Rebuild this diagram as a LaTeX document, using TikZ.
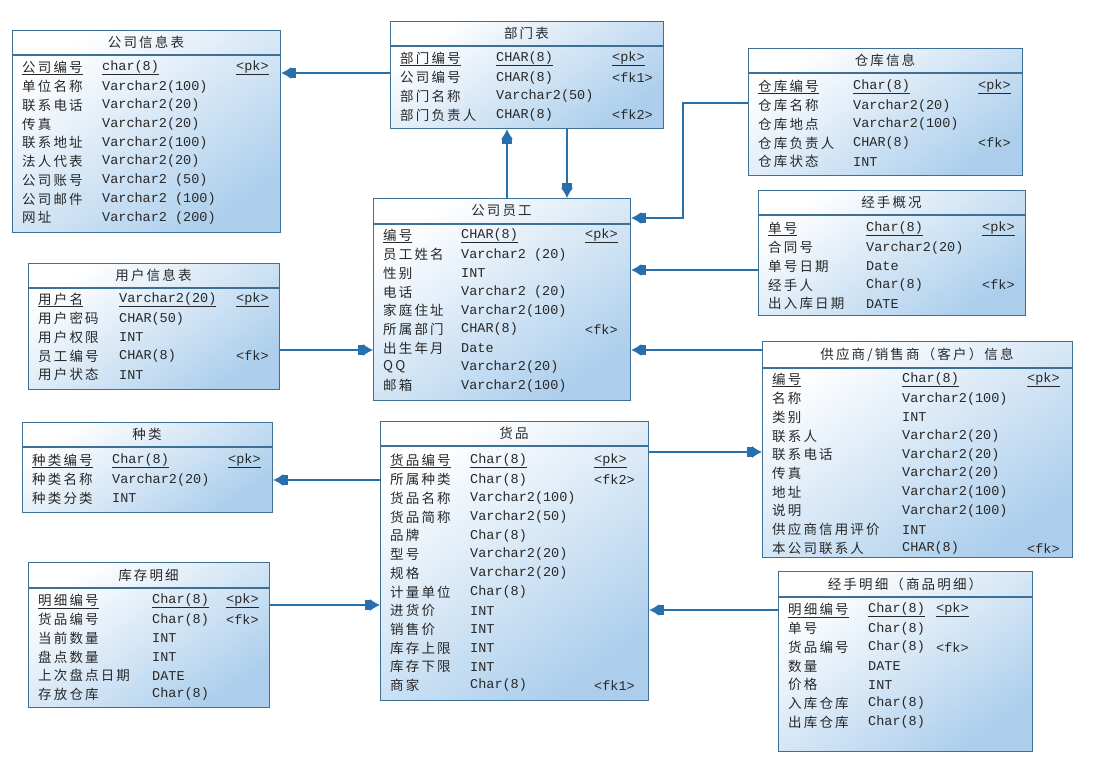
\documentclass[tikz,border=0pt]{standalone}
\usepackage{fontspec}
\setmainfont[LetterSpace=16]{Noto Sans CJK SC}
\newfontfamily\typefont{Liberation Mono}
\usetikzlibrary{arrows.meta}

\definecolor{tblborder}{RGB}{62,112,150}
\definecolor{tblfill}{RGB}{172,206,236}
\definecolor{relblue}{RGB}{40,112,172}
\definecolor{txtgray}{RGB}{40,40,40}

\tikzset{
  tbl/.style={draw=tblborder, line width=1.2pt, top color=white, bottom color=tblfill, shading angle=35, inner sep=0pt},
  fld/.style={anchor=west, inner sep=0pt, text=txtgray, font=\fontsize{13.5}{15}\selectfont},
  typ/.style={anchor=west, inner sep=0pt, text=txtgray, font=\typefont\fontsize{13.5}{15}\selectfont},
  rel/.style={draw=relblue, line width=1.2pt, -{Rectangle[length=5pt,width=10pt] Latex[length=10pt,width=12pt]}}
}

% box with a title bar
\newcommand\ertable[7]{%
  \node[tbl, anchor=north west, minimum width=#4-#2, minimum height=#5-#3] (#1) at (#2,#3) {};
  \draw[tblborder, line width=1.2pt] (#2,#6) -- (#4,#6);
  \node[fld] (#1-title) at ({(#2+#4)/2}, {(#3+#6)/2}) [anchor=center] {#7};
}
% rows: name, left, type offset, key offset, first row y, list
\newcommand\errows[6]{%
  \foreach \n/\t/\k [count=\i] in {#6} {
    \pgfmathsetmacro\yy{#5+(\i-1)*18.7}
    \node[fld] (#1-n\i) at (#2+10,\yy) {\n};
    \node[typ] (#1-t\i) at (#2+#3,\yy) {\t};
    \node[typ] (#1-k\i) at (#2+#4,\yy) {\k};
  }
}

\begin{document}
\begin{tikzpicture}[x=1pt, y=-1pt]
\useasboundingbox[fill=white] (0,0) rectangle (1110,762);

%Company tables
\ertable{comp}{12}{30}{280}{232}{55}{公司信息表}
\errows{comp}{12}{90}{224}{68}{{\underline{公司编号}}/{\underline{char(8)}}/{\underline{<pk>}},
  单位名称/Varchar2(100)/{}, 联系电话/Varchar2(20)/{}, 传真/Varchar2(20)/{},
  联系地址/Varchar2(100)/{}, 法人代表/Varchar2(20)/{}, 公司账号/Varchar2 (50)/{},
  公司邮件/Varchar2 (100)/{}, 网址/Varchar2 (200)/{}}

\ertable{dept}{390}{21}{663}{128}{46}{部门表}
\errows{dept}{390}{106}{222}{59}{{\underline{部门编号}}/{\underline{CHAR(8)}}/{\underline{<pk>}},
  公司编号/CHAR(8)/<fk1>, 部门名称/Varchar2(50)/{}, 部门负责人/CHAR(8)/<fk2>}

\ertable{wh}{748}{48}{1022}{175}{73}{仓库信息}
\errows{wh}{748}{105}{230}{87}{{\underline{仓库编号}}/{\underline{Char(8)}}/{\underline{<pk>}},
  仓库名称/Varchar2(20)/{}, 仓库地点/Varchar2(100)/{}, 仓库负责人/CHAR(8)/<fk>, 仓库状态/INT/{}}

\ertable{deal}{758}{190}{1025}{315}{215}{经手概况}
\errows{deal}{758}{108}{224}{229}{{\underline{单号}}/{\underline{Char(8)}}/{\underline{<pk>}},
  合同号/Varchar2(20)/{}, 单号日期/Date/{}, 经手人/Char(8)/<fk>, 出入库日期/DATE/{}}

\ertable{emp}{373}{198}{630}{400}{224}{公司员工}
\errows{emp}{373}{88}{212}{236}{{\underline{编号}}/{\underline{CHAR(8)}}/{\underline{<pk>}},
  员工姓名/Varchar2 (20)/{}, 性别/INT/{}, 电话/Varchar2 (20)/{}, 家庭住址/Varchar2(100)/{},
  所属部门/CHAR(8)/<fk>, 出生年月/Date/{}, QQ/Varchar2(20)/{}, 邮箱/Varchar2(100)/{}}

\ertable{user}{28}{263}{279}{389}{288}{用户信息表}
\errows{user}{28}{91}{208}{300}{{\underline{用户名}}/{\underline{Varchar2(20)}}/{\underline{<pk>}},
  用户密码/CHAR(50)/{}, 用户权限/INT/{}, 员工编号/CHAR(8)/<fk>, 用户状态/INT/{}}

%Goods tables
\ertable{kind}{22}{422}{272}{512}{447}{种类}
\errows{kind}{22}{90}{206}{461}{{\underline{种类编号}}/{\underline{Char(8)}}/{\underline{<pk>}},
  种类名称/Varchar2(20)/{}, 种类分类/INT/{}}

\ertable{goods}{380}{421}{648}{700}{446}{货品}
\errows{goods}{380}{90}{214}{461}{{\underline{货品编号}}/{\underline{Char(8)}}/{\underline{<pk>}},
  所属种类/Char(8)/<fk2>, 货品名称/Varchar2(100)/{}, 货品简称/Varchar2(50)/{}, 品牌/Char(8)/{},
  型号/Varchar2(20)/{}, 规格/Varchar2(20)/{}, 计量单位/Char(8)/{}, 进货价/INT/{}, 销售价/INT/{},
  库存上限/INT/{}, 库存下限/INT/{}, 商家/Char(8)/<fk1>}

\ertable{supp}{762}{341}{1072}{557}{368}{供应商/销售商（客户）信息}
\errows{supp}{762}{140}{265}{380}{{\underline{编号}}/{\underline{Char(8)}}/{\underline{<pk>}},
  名称/Varchar2(100)/{}, 类别/INT/{}, 联系人/Varchar2(20)/{}, 联系电话/Varchar2(20)/{},
  传真/Varchar2(20)/{}, 地址/Varchar2(100)/{}, 说明/Varchar2(100)/{}, 供应商信用评价/INT/{},
  本公司联系人/CHAR(8)/<fk>}

\ertable{stock}{28}{562}{269}{707}{588}{库存明细}
\errows{stock}{28}{124}{198}{601}{{\underline{明细编号}}/{\underline{Char(8)}}/{\underline{<pk>}},
  货品编号/Char(8)/<fk>, 当前数量/INT/{}, 盘点数量/INT/{}, 上次盘点日期/DATE/{}, 存放仓库/Char(8)/{}}

\ertable{item}{778}{571}{1032}{751}{597}{经手明细（商品明细）}
\errows{item}{778}{90}{158}{610}{{\underline{明细编号}}/{\underline{Char(8)}}/{\underline{<pk>}},
  单号/Char(8)/{}, 货品编号/Char(8)/<fk>, 数量/DATE/{}, 价格/INT/{}, 入库仓库/Char(8)/{}, 出库仓库/Char(8)/{}}

%Relations
\draw[rel] (dept.west |- 0,73) -- (comp.east |- 0,73);
\draw[rel] (emp.north -| 507,0) -- (dept.south -| 507,0);
\draw[rel] (dept.south -| 567,0) -- (emp.north -| 567,0);
\draw[rel] (wh.west |- 0,103) -- (683,103) |- (emp.east |- 0,218);
\draw[rel] (deal.west |- 0,270) -- (emp.east |- 0,270);
\draw[rel] (user.east |- 0,350) -- (emp.west |- 0,350);
\draw[rel] (supp.west |- 0,350) -- (emp.east |- 0,350);
\draw[rel] (goods.west |- 0,480) -- (kind.east |- 0,480);
\draw[rel] (goods.east |- 0,452) -- (supp.west |- 0,452);
\draw[rel] (stock.east |- 0,605) -- (goods.west |- 0,605);
\draw[rel] (item.west |- 0,610) -- (goods.east |- 0,610);
\end{tikzpicture}
\end{document}
